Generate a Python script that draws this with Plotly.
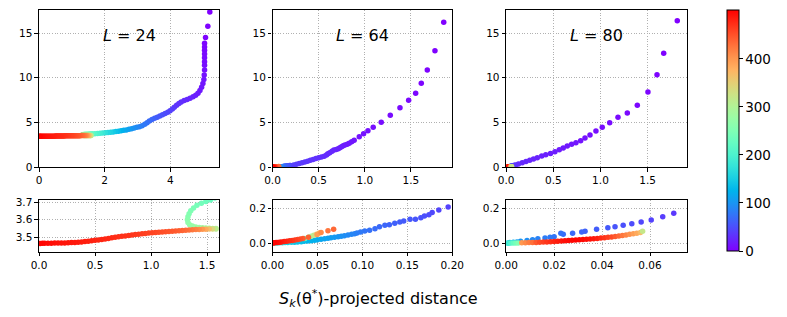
import math
import plotly.graph_objects as go

# ---------------- data ----------------
# L = 24 : distance (x), value (y), colour index (c)
x24 = [5.20, 5.14, 5.07, 5.04, 5.04, 5.04, 5.04, 5.04, 5.04, 5.04, 5.04, 5.03,
       5.02, 4.99, 4.95, 4.90, 4.84, 4.77, 4.69, 4.60, 4.51, 4.42,
       4.33, 4.26, 4.19, 4.12, 4.06, 3.99, 3.92, 3.84, 3.76, 3.68,
       3.60, 3.52, 3.44, 3.36, 3.29, 3.22, 3.14, 3.06, 2.98, 2.90,
       2.82, 2.74, 2.66, 2.58, 2.50, 2.42, 2.34, 2.26, 2.18, 2.10,
       2.02, 1.94, 1.86, 1.78, 1.70, 1.62,
       1.57, 1.53, 1.49, 1.45, 1.41, 1.38, 1.355, 1.34, 1.33, 1.325,
       1.33, 1.345, 1.37, 1.40, 1.43, 1.46, 1.49, 1.52, 1.55, 1.58,
       1.58, 1.55, 1.52, 1.49, 1.46, 1.43, 1.40, 1.37, 1.34, 1.31,
       1.28, 1.25, 1.22, 1.19, 1.16, 1.13, 1.10, 1.07, 1.04, 1.01,
       0.98, 0.95, 0.92, 0.89, 0.86, 0.83, 0.80, 0.77, 0.74, 0.71,
       0.68, 0.65, 0.62, 0.59, 0.56, 0.53, 0.50, 0.47, 0.44, 0.41,
       0.38, 0.35, 0.32, 0.29, 0.26, 0.23, 0.20, 0.17, 0.14, 0.11,
       0.08, 0.05, 0.03, 0.01]
y24 = [17.35, 15.75, 14.5, 13.85, 13.44, 13.07, 12.66, 12.25, 11.8, 11.4, 10.87, 10.3,
       9.80, 9.35, 8.95, 8.58, 8.28, 8.05, 7.87, 7.72, 7.58, 7.45,
       7.30, 7.12, 6.92, 6.72, 6.52, 6.33, 6.16, 6.00, 5.86, 5.73,
       5.60, 5.47, 5.33, 5.16, 4.98, 4.80, 4.64, 4.54, 4.46, 4.38,
       4.31, 4.24, 4.18, 4.13, 4.08, 4.03, 3.99, 3.95, 3.92, 3.89,
       3.86, 3.83, 3.80, 3.78, 3.76, 3.74,
       3.725, 3.713, 3.705, 3.695, 3.683, 3.668, 3.652, 3.635, 3.618, 3.600,
       3.585, 3.572, 3.564, 3.559, 3.556, 3.554, 3.553, 3.552, 3.551, 3.550,
       3.548, 3.548, 3.547, 3.546, 3.546, 3.545, 3.544, 3.543, 3.542, 3.540,
       3.539, 3.538, 3.536, 3.535, 3.533, 3.532, 3.530, 3.529, 3.527, 3.526,
       3.524, 3.522, 3.520, 3.518, 3.516, 3.514, 3.511, 3.508, 3.506, 3.503,
       3.500, 3.497, 3.494, 3.491, 3.488, 3.485, 3.483, 3.480, 3.478, 3.476,
       3.474, 3.472, 3.471, 3.470, 3.469, 3.468, 3.468, 3.467, 3.467, 3.466,
       3.466, 3.466, 3.466, 3.465]
c24 = [0, 1, 2, 3, 4, 5, 6, 7, 8, 9, 10, 11,
       13, 14, 15, 16, 17, 19, 21, 23, 25, 27,
       29, 31, 33, 35, 38, 41, 44, 47, 50, 53,
       57, 61, 65, 69, 73, 77, 81, 85, 90, 95,
       100, 106, 112, 118, 125, 132, 139, 147, 155, 163,
       172, 182, 192, 202, 212, 222,
       226, 230, 234, 238, 242, 246, 250, 254, 258, 262,
       266, 270, 274, 278, 282, 286, 290, 295, 300, 305,
       310, 340, 365, 385, 400, 410, 418, 424, 429, 433,
       437, 440, 443, 446, 448, 450, 452, 454, 456, 458,
       460, 461, 463, 464, 466, 467, 469, 470, 471, 472,
       474, 475, 476, 477, 478, 479, 480, 481, 482, 483,
       484, 485, 486, 487, 488, 489, 490, 491, 492, 494,
       495, 496, 498, 499]

# L = 64
x64 = [1.855, 1.76, 1.677, 1.612, 1.551, 1.475, 1.381, 1.276, 1.178, 1.091,
       1.034, 0.987, 0.94, 0.885, 0.858, 0.831, 0.81, 0.784, 0.766, 0.748,
       0.73, 0.712, 0.69, 0.665, 0.645, 0.62, 0.60, 0.585, 0.56, 0.53,
       0.50, 0.47, 0.44, 0.41, 0.38, 0.35, 0.32, 0.29, 0.26, 0.23,
       0.1954, 0.185, 0.1776, 0.174, 0.169, 0.165, 0.159, 0.153, 0.146, 0.1416,
       0.136, 0.130, 0.125, 0.119, 0.114, 0.108, 0.1026, 0.098, 0.094, 0.0914,
       0.088, 0.084, 0.080, 0.0765, 0.073, 0.069, 0.065, 0.0617, 0.058, 0.054,
       0.050, 0.047, 0.043, 0.039, 0.035, 0.032, 0.028, 0.0245, 0.021, 0.017,
       0.014, 0.011, 0.008, 0.005, 0.003,
       0.036, 0.040, 0.043, 0.046, 0.049, 0.052,
       0.0497, 0.054, 0.0617, 0.068, 0.040,
       0.034, 0.031, 0.028, 0.025, 0.022, 0.019, 0.016, 0.013, 0.010, 0.008,
       0.006, 0.004, 0.002, 0.001]
y64 = [16.2, 13.03, 10.87, 9.38, 8.27, 7.49, 6.66, 5.81, 5.03, 4.47,
       4.09, 3.75, 3.42, 3.02, 2.85, 2.68, 2.58, 2.49, 2.40, 2.30,
       2.18, 2.08, 2.00, 1.93, 1.78, 1.63, 1.50, 1.37, 1.24, 1.15,
       1.07, 0.98, 0.88, 0.78, 0.68, 0.59, 0.50, 0.42, 0.34, 0.27,
       0.207, 0.19, 0.175, 0.163, 0.156, 0.146, 0.137, 0.137, 0.127, 0.122,
       0.114, 0.106, 0.103, 0.095, 0.083, 0.074, 0.070, 0.065, 0.059, 0.055,
       0.051, 0.047, 0.043, 0.040, 0.037, 0.034, 0.031, 0.029, 0.026, 0.023,
       0.020, 0.017, 0.015, 0.013, 0.011, 0.009, 0.0075, 0.006, 0.0055, 0.005,
       0.004, 0.0035, 0.003, 0.002, 0.0015,
       0.028, 0.034, 0.040, 0.046, 0.052, 0.058,
       0.050, 0.061, 0.071, 0.080, 0.034,
       0.027, 0.024, 0.021, 0.019, 0.016, 0.014, 0.012, 0.010, 0.008, 0.006,
       0.005, 0.004, 0.003, 0.002]
c64 = [0, 1, 2, 3, 4, 5, 6, 7, 8, 9,
       10, 11, 12, 13, 14, 15, 16, 17, 18, 19,
       20, 21, 22, 23, 24, 25, 26, 27, 28, 29,
       30, 31, 32, 33, 34, 35, 36, 37, 38, 40,
       42, 44, 46, 48, 50, 52, 54, 56, 58, 60,
       62, 64, 66, 68, 70, 73, 76, 79, 82, 85,
       88, 91, 94, 97, 100, 103, 106, 109, 112, 115,
       118, 121, 124, 127, 130, 134, 138, 142, 147, 152,
       158, 165, 172, 180, 190,
       230, 260, 290, 320, 350, 375,
       395, 410, 425, 435, 440,
       445, 452, 458, 463, 468, 473, 478, 482, 486, 490,
       493, 496, 498, 499]

# L = 80
x80 = [1.815, 1.671, 1.60, 1.504, 1.391, 1.285, 1.186, 1.098, 1.019, 0.952,
       0.889, 0.836, 0.79, 0.74, 0.694, 0.648, 0.605, 0.563, 0.517, 0.47,
       0.42, 0.377, 0.33, 0.29, 0.25, 0.21, 0.17, 0.13, 0.10, 0.085,
       0.0699, 0.0653, 0.0605, 0.0563, 0.0524, 0.0488, 0.0454, 0.0424, 0.0377, 0.0329,
       0.0315, 0.0277, 0.0238, 0.0228, 0.020, 0.0183, 0.0162, 0.0132, 0.011, 0.0087,
       0.006, 0.0045, 0.003, 0.0015, 0.0005,
       0.001, 0.002, 0.003, 0.004, 0.005,
       0.0065, 0.008, 0.0095, 0.011,
       0.0125, 0.014, 0.0155, 0.017, 0.0185, 0.020, 0.0215, 0.023, 0.0245, 0.026,
       0.0275, 0.029, 0.0305, 0.032, 0.0335, 0.035, 0.0365, 0.038, 0.0395, 0.041,
       0.0425, 0.044, 0.0455, 0.047, 0.0485, 0.050, 0.0515, 0.053, 0.0545, 0.056,
       0.0569]
y80 = [16.38, 12.74, 10.35, 8.41, 6.93, 6.07, 5.59, 4.98, 4.47, 4.06,
       3.61, 3.27, 2.97, 2.75, 2.57, 2.38, 2.16, 1.97, 1.74, 1.55,
       1.40, 1.25, 1.06, 0.92, 0.78, 0.64, 0.50, 0.37, 0.26, 0.22,
       0.171, 0.152, 0.133, 0.122, 0.112, 0.103, 0.095, 0.089, 0.080, 0.069,
       0.065, 0.057, 0.051, 0.057, 0.038, 0.034, 0.030, 0.026, 0.020, 0.016,
       0.011, 0.008, 0.006, 0.004, 0.002,
       0.000, 0.001, 0.001, 0.002, 0.002,
       0.003, 0.003, 0.004, 0.005,
       0.0045, 0.0055, 0.0068, 0.008, 0.0093, 0.0106, 0.012, 0.0133, 0.0146, 0.016,
       0.0175, 0.019, 0.0205, 0.022, 0.0235, 0.025, 0.0265, 0.028, 0.030, 0.032,
       0.034, 0.036, 0.039, 0.042, 0.045, 0.048, 0.051, 0.054, 0.057, 0.061,
       0.068]
c80 = [0, 1, 2, 3, 4, 5, 6, 7, 8, 9,
       10, 11, 12, 13, 14, 15, 16, 17, 18, 19,
       20, 21, 22, 23, 24, 25, 26, 28, 30, 33,
       36, 39, 42, 45, 48, 51, 54, 57, 60, 63,
       65, 68, 71, 73, 76, 79, 82, 86, 90, 95,
       100, 110, 120, 140, 160,
       190, 210, 225, 240, 255,
       400, 410, 420, 430,
       445, 455, 462, 468, 474, 479, 484, 488, 492, 495,
       497, 499, 498, 496, 493, 490, 486, 481, 475, 469,
       462, 455, 445, 435, 425, 415, 405, 395, 385, 370,
       320]

panel_labels = ["24", "64", "80"]
cbar_ticks = [0, 100, 200, 300, 400]

# ---------------- styling ----------------
def rainbow(t):
    r = min(1.0, abs(2 * t - 0.5))
    g = math.sin(math.pi * t)
    b = math.cos(math.pi * t / 2)
    return "rgb(%d,%d,%d)" % (round(r * 255), round(g * 255), round(b * 255))

cscale = [[i / 20, rainbow(i / 20)] for i in range(21)]
FONT = "DejaVu Sans"
W, H = 787, 317

def px_x(a, b):
    return [a / W, b / W]

def px_y(top, bottom):
    return [1 - bottom / H, 1 - top / H]

xdom = [px_x(39, 219), px_x(272.5, 452.3), px_x(506.2, 686.7)]
ytop = px_y(10, 167.3)
ybot = px_y(200, 251.7)

fig = go.Figure()
datasets = [(x24, y24, c24), (x64, y64, c64), (x80, y80, c80)]
for i, (xs, ys, cs) in enumerate(datasets):
    for row in range(2):
        k = i + 1 + 3 * row
        fig.add_trace(go.Scatter(
            x=xs, y=ys, mode="markers",
            xaxis="x" if k == 1 else "x%d" % k,
            yaxis="y" if k == 1 else "y%d" % k,
            marker=dict(size=5.5, color=cs, colorscale=cscale, cmin=0, cmax=502,
                        line=dict(width=0),
                        showscale=(k == 1),
                        colorbar=dict(
                            x=726.7 / W, xanchor="left", xpad=0,
                            y=1 - 10 / H, yanchor="top", ypad=0,
                            len=241, lenmode="pixels",
                            thickness=12, thicknessmode="pixels",
                            outlinewidth=1, outlinecolor="black",
                            tickvals=cbar_ticks, ticks="outside", ticklen=3.5,
                            tickwidth=1, tickcolor="black",
                            tickfont=dict(family=FONT, size=13.5, color="black"),
                        )),
            showlegend=False, hoverinfo="skip"))

axis_common = dict(showline=True, mirror=True, linecolor="black", linewidth=1.1,
                   ticks="outside", ticklen=3.5, tickwidth=1, tickcolor="black",
                   showgrid=True, gridcolor="#b0b0b0", griddash="1px,1.6px", gridwidth=0.8,
                   zeroline=False, automargin=False,
                   tickfont=dict(family=FONT, size=10.5, color="black"))

xranges = [[0, 5.48], [0, 1.948], [0, 1.915], [0, 1.607], [0, 0.2], [0, 0.0753]]
yranges = [[0, 17.57], [0, 17.57], [0, 17.57], [3.418, 3.713], [-0.048, 0.247], [-0.048, 0.247]]
xticks = [([0, 2, 4], ["0", "2", "4"]),
          ([0, 0.5, 1.0, 1.5], ["0.0", "0.5", "1.0", "1.5"]),
          ([0, 0.5, 1.0, 1.5], ["0.0", "0.5", "1.0", "1.5"]),
          ([0, 0.5, 1.0, 1.5], ["0.0", "0.5", "1.0", "1.5"]),
          ([0, 0.05, 0.10, 0.15, 0.20], ["0.00", "0.05", "0.10", "0.15", "0.20"]),
          ([0, 0.02, 0.04, 0.06], ["0.00", "0.02", "0.04", "0.06"])]
yticks = [([0, 5, 10, 15], ["0", "5", "10", "15"])] * 3 + \
         [([3.5, 3.6, 3.7], ["3.5", "3.6", "3.7"]),
          ([0, 0.2], ["0.0", "0.2"]),
          ([0, 0.2], ["0.0", "0.2"])]

layout = dict(width=W, height=H, margin=dict(l=0, r=0, t=0, b=0, autoexpand=False),
              paper_bgcolor="white", plot_bgcolor="white",
              font=dict(family=FONT, color="black"))
for k in range(1, 7):
    col = (k - 1) % 3
    xd = xdom[col]
    yd = ytop if k <= 3 else ybot
    xn = "xaxis" if k == 1 else "xaxis%d" % k
    yn = "yaxis" if k == 1 else "yaxis%d" % k
    layout[xn] = dict(axis_common, domain=xd, range=xranges[k - 1],
                      anchor="y" if k == 1 else "y%d" % k,
                      tickvals=xticks[k - 1][0], ticktext=xticks[k - 1][1])
    layout[yn] = dict(axis_common, domain=yd, range=yranges[k - 1],
                      anchor="x" if k == 1 else "x%d" % k,
                      tickvals=yticks[k - 1][0], ticktext=yticks[k - 1][1])
fig.update_layout(**layout)

for i, lab in enumerate(panel_labels):
    k = i + 1
    fig.add_annotation(text="<i>L</i> = " + lab, showarrow=False,
                       xref=("x" if k == 1 else "x%d" % k) + " domain",
                       yref=("y" if k == 1 else "y%d" % k) + " domain",
                       x=0.5, y=0.84, xanchor="center", yanchor="middle",
                       font=dict(family=FONT, size=16, color="black"))

fig.add_annotation(text="<i>S</i><sub><i>k</i></sub>(θ<sup>*</sup>)-projected distance",
                   showarrow=False, xref="paper", yref="paper",
                   x=378.5 / W, y=1 - 298 / H, xanchor="center", yanchor="middle",
                   font=dict(family=FONT, size=16, color="black"))

fig.write_html("out.html", config={"displayModeBar": False},
               post_script="document.body.style.margin='0';document.body.style.padding='0';")
